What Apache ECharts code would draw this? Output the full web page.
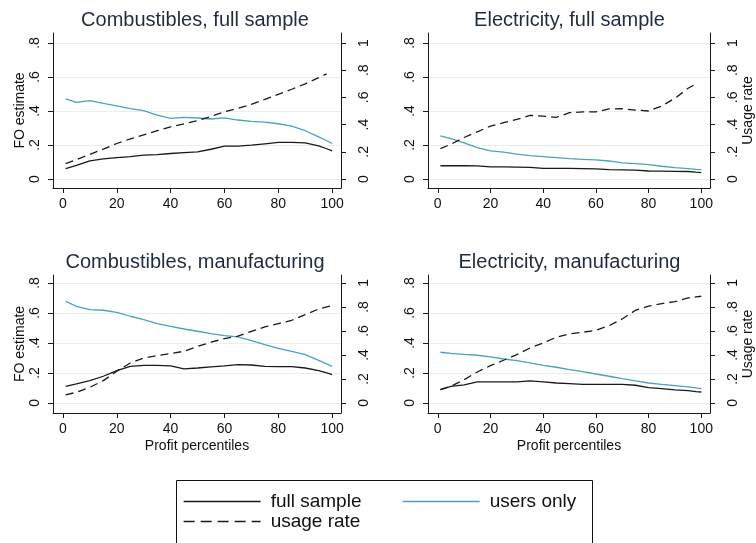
<!DOCTYPE html>
<html>
<head>
<meta charset="utf-8">
<script src="https://cdn.jsdelivr.net/npm/echarts@6/dist/echarts.min.js"></script>
<style>
  html, body { margin: 0; padding: 0; background: #ffffff; }
  #chart { width: 756px; height: 543px; }
</style>
</head>
<body>
<div id="chart"></div>
<script>
// Profit percentiles at which the fitted curves are sampled
const percentiles = [1, 5, 10, 15, 20, 25, 30, 35, 40, 45, 50, 55, 60, 65, 70, 75, 80, 85, 90, 95, 98, 100];

// Panel titles
const panelTitles = [
  'Combustibles, full sample',
  'Electricity, full sample',
  'Combustibles, manufacturing',
  'Electricity, manufacturing'
];

// Legend / series names
const seriesNames = ['full sample', 'users only', 'usage rate'];

// Combustibles, full sample
const combFullFull  = [0.061, 0.080, 0.106, 0.118, 0.126, 0.132, 0.140, 0.143, 0.150, 0.155, 0.160, 0.175, 0.193, 0.193, 0.199, 0.207, 0.215, 0.215, 0.213, 0.195, 0.178, 0.166];
const combFullUsers = [0.471, 0.451, 0.461, 0.445, 0.430, 0.414, 0.402, 0.376, 0.357, 0.363, 0.359, 0.353, 0.360, 0.347, 0.339, 0.335, 0.325, 0.311, 0.284, 0.248, 0.225, 0.209];
const combFullUsage = [0.113, 0.143, 0.180, 0.220, 0.261, 0.295, 0.325, 0.355, 0.384, 0.405, 0.430, 0.460, 0.495, 0.520, 0.549, 0.585, 0.623, 0.660, 0.700, 0.745, 0.773, null];

// Electricity, full sample
const elecFullFull  = [0.078, 0.078, 0.078, 0.077, 0.071, 0.071, 0.070, 0.068, 0.063, 0.062, 0.062, 0.061, 0.060, 0.055, 0.054, 0.052, 0.047, 0.046, 0.045, 0.044, 0.040, 0.038];
const elecFullUsers = [0.254, 0.238, 0.213, 0.185, 0.166, 0.158, 0.146, 0.138, 0.132, 0.126, 0.120, 0.116, 0.112, 0.106, 0.095, 0.091, 0.085, 0.075, 0.067, 0.061, 0.057, 0.055];
const elecFullUsage = [0.224, 0.256, 0.305, 0.347, 0.389, 0.414, 0.438, 0.468, 0.463, 0.453, 0.488, 0.493, 0.493, 0.515, 0.517, 0.507, 0.500, 0.537, 0.594, 0.667, 0.700, null];

// Combustibles, manufacturing
const combManFull  = [0.111, 0.127, 0.149, 0.178, 0.216, 0.244, 0.251, 0.251, 0.247, 0.227, 0.233, 0.240, 0.247, 0.256, 0.253, 0.244, 0.242, 0.242, 0.233, 0.216, 0.200, 0.189];
const combManUsers = [0.678, 0.644, 0.622, 0.618, 0.604, 0.578, 0.556, 0.529, 0.511, 0.493, 0.478, 0.462, 0.449, 0.440, 0.416, 0.389, 0.364, 0.344, 0.322, 0.284, 0.260, 0.244];
const combManUsage = [0.067, 0.089, 0.131, 0.186, 0.264, 0.333, 0.375, 0.394, 0.411, 0.431, 0.472, 0.506, 0.536, 0.556, 0.597, 0.633, 0.661, 0.689, 0.736, 0.783, 0.800, 0.811];

// Electricity, manufacturing
const elecManFull  = [0.089, 0.111, 0.120, 0.140, 0.140, 0.140, 0.140, 0.147, 0.140, 0.133, 0.129, 0.124, 0.124, 0.124, 0.124, 0.118, 0.102, 0.096, 0.087, 0.082, 0.076, 0.073];
const elecManUsers = [0.338, 0.331, 0.324, 0.318, 0.307, 0.293, 0.282, 0.267, 0.251, 0.238, 0.222, 0.209, 0.193, 0.178, 0.162, 0.147, 0.133, 0.124, 0.116, 0.107, 0.100, 0.096];
const elecManUsage = [0.111, 0.139, 0.194, 0.258, 0.311, 0.356, 0.403, 0.458, 0.500, 0.547, 0.575, 0.589, 0.606, 0.644, 0.700, 0.772, 0.806, 0.828, 0.844, 0.875, 0.884, 0.889];

// Tick values
const xTicks = [0, 20, 40, 60, 80, 100];
const leftTicks = [0, 0.2, 0.4, 0.6, 0.8];
const rightTicks = [0, 0.2, 0.4, 0.6, 0.8, 1];

const panels = [
  [combFullFull, combFullUsers, combFullUsage],
  [elecFullFull, elecFullUsers, elecFullUsage],
  [combManFull, combManUsers, combManUsage],
  [elecManFull, elecManUsers, elecManUsage]
];

const FONT = '"Liberation Sans", Arial, sans-serif';
const AXIS_COLOR = '#1a1a1a';
const TEXT_COLOR = '#111111';
const TITLE_COLOR = '#1f2c3f';
const GRID_COLOR = '#e9eded';
const FULL_COLOR = '#1a1a1a';
const USERS_COLOR = '#4aa3b9';

// Plot rectangles (left, top, width, height) and y ranges per panel
const gridBoxes = [
  { left: 53,  top: 33,  width: 288, height: 155, yMin: -0.053, yMax: 0.859 },
  { left: 428, top: 33,  width: 287, height: 155, yMin: -0.053, yMax: 0.859 },
  { left: 53,  top: 275, width: 288, height: 138, yMin: -0.067, yMax: 0.853 },
  { left: 428, top: 275, width: 287, height: 138, yMin: -0.067, yMax: 0.853 }
];
const RIGHT_SCALE = 1.25; // right axis (usage rate) relative to left axis (FO estimate)

function fmtTick(v) {
  if (v === 0) return '0';
  if (v === 1) return '1';
  return String(+v.toFixed(2)).replace(/^0/, '');
}

const grids = [], xAxes = [], yAxes = [], titles = [], series = [];

gridBoxes.forEach((g, i) => {
  const isLeftCol = i % 2 === 0;
  const isBottomRow = i >= 2;
  grids.push({ left: g.left, top: g.top, width: g.width, height: g.height, containLabel: false });

  titles.push({
    text: panelTitles[i],
    left: g.left + g.width / 2 - 2,
    top: g.top - 23,
    textAlign: 'center',
    padding: 0,
    textStyle: { fontFamily: FONT, fontSize: 20, fontWeight: 'normal', color: TITLE_COLOR }
  });

  xAxes.push({
    type: 'value',
    gridIndex: i,
    min: -3.7,
    max: 103.3,
    name: isBottomRow ? 'Profit percentiles' : '',
    nameLocation: 'middle',
    nameGap: 26,
    nameTextStyle: { fontFamily: FONT, fontSize: 14, color: TEXT_COLOR },
    axisLine: { show: true, onZero: false, lineStyle: { color: AXIS_COLOR, width: 1 } },
    axisTick: { show: true, length: 5, lineStyle: { color: AXIS_COLOR }, customValues: xTicks },
    axisLabel: { customValues: xTicks, margin: 9, fontFamily: FONT, fontSize: 14, color: TEXT_COLOR },
    splitLine: { show: false }
  });

  // Left axis: FO estimate
  yAxes.push({
    type: 'value',
    gridIndex: i,
    position: 'left',
    min: g.yMin,
    max: g.yMax,
    name: isLeftCol ? 'FO estimate' : '',
    nameLocation: 'middle',
    nameRotate: 90,
    nameGap: 26,
    nameTextStyle: { fontFamily: FONT, fontSize: 14, color: TEXT_COLOR },
    axisLine: { show: true, onZero: false, lineStyle: { color: AXIS_COLOR, width: 1 } },
    axisTick: { show: true, length: 5, lineStyle: { color: AXIS_COLOR }, customValues: leftTicks },
    axisLabel: { customValues: leftTicks, rotate: 90, margin: 11, formatter: fmtTick, fontFamily: FONT, fontSize: 14, color: TEXT_COLOR },
    splitLine: { show: true, lineStyle: { color: GRID_COLOR, width: 1 } }
  });

  // Right axis: usage rate
  yAxes.push({
    type: 'value',
    gridIndex: i,
    position: 'right',
    min: g.yMin * RIGHT_SCALE,
    max: g.yMax * RIGHT_SCALE,
    name: isLeftCol ? '' : 'Usage rate',
    nameLocation: 'middle',
    nameRotate: 90,
    nameGap: 31,
    nameTextStyle: { fontFamily: FONT, fontSize: 14, color: TEXT_COLOR },
    axisLine: { show: true, onZero: false, lineStyle: { color: AXIS_COLOR, width: 1 } },
    axisTick: { show: true, length: 5, lineStyle: { color: AXIS_COLOR }, customValues: rightTicks },
    axisLabel: { customValues: rightTicks, rotate: 90, margin: 16, formatter: fmtTick, fontFamily: FONT, fontSize: 14, color: TEXT_COLOR },
    splitLine: { show: false }
  });

  const [full, users, usage] = panels[i];
  const pairs = arr => percentiles.map((p, k) => [p, arr[k]]);
  const base = { type: 'line', xAxisIndex: i, symbol: 'none', showSymbol: false, animation: false, silent: true };

  series.push(Object.assign({}, base, {
    name: seriesNames[0], yAxisIndex: 2 * i, data: pairs(full),
    lineStyle: { color: FULL_COLOR, width: 1.3 }, itemStyle: { color: FULL_COLOR }
  }));
  series.push(Object.assign({}, base, {
    name: seriesNames[1], yAxisIndex: 2 * i, data: pairs(users),
    lineStyle: { color: USERS_COLOR, width: 1.3 }, itemStyle: { color: USERS_COLOR }
  }));
  series.push(Object.assign({}, base, {
    name: seriesNames[2], yAxisIndex: 2 * i + 1, data: pairs(usage),
    lineStyle: { color: FULL_COLOR, width: 1.3, type: [8, 5] }, itemStyle: { color: FULL_COLOR }
  }));
});

// One legend block per entry, laid out in two columns inside a framed box
const legendSpec = [
  { name: seriesNames[0], left: 183, top: 492, dash: 'solid' },
  { name: seriesNames[1], left: 402, top: 492, dash: 'solid' },
  { name: seriesNames[2], left: 183, top: 512, dash: [11, 6] }
];
const legends = legendSpec.map(l => ({
  data: [l.name],
  left: l.left,
  top: l.top,
  padding: 0,
  itemWidth: 77,
  itemHeight: 14,
  selectedMode: false,
  itemStyle: { opacity: 0, color: 'rgba(0,0,0,0)', borderWidth: 0 },
  lineStyle: { type: l.dash, width: 1.3 },
  textStyle: { fontFamily: FONT, fontSize: 19, color: TEXT_COLOR, padding: [0, 0, 0, 5] }
}));

const chart = echarts.init(document.getElementById('chart'), null, { renderer: 'canvas' });
chart.setOption({
  backgroundColor: '#ffffff',
  animation: false,
  title: titles,
  grid: grids,
  xAxis: xAxes,
  yAxis: yAxes,
  legend: legends,
  series: series,
  graphic: [{
    type: 'rect',
    shape: { x: 176.5, y: 480.5, width: 416, height: 80 },
    style: { fill: 'none', stroke: '#111111', lineWidth: 1 },
    silent: true,
    z: 0
  }]
});
</script>
</body>
</html>
